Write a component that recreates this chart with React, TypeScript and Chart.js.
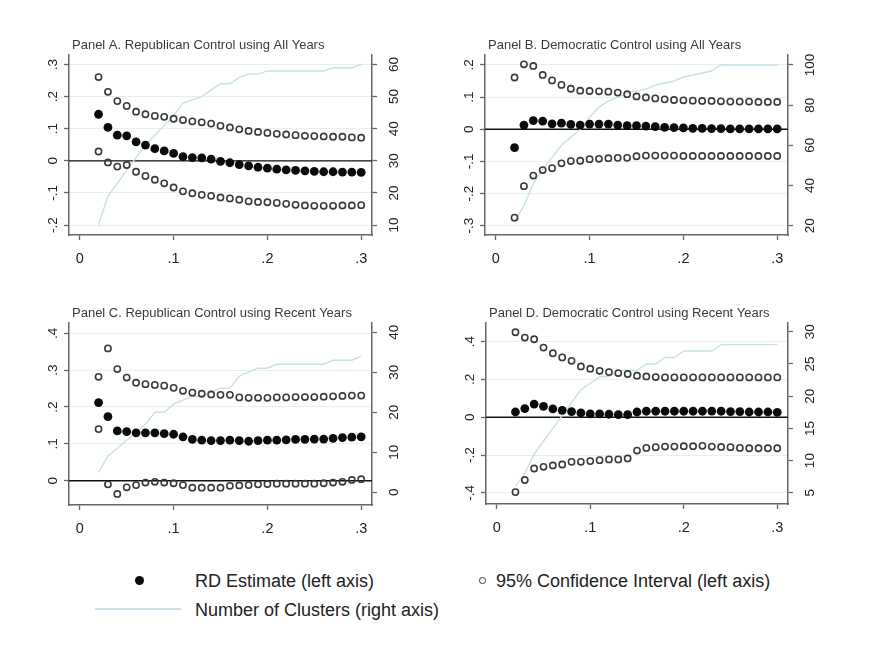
import React, { useEffect, useRef } from "react";
import { Chart, registerables } from "chart.js";

Chart.register(...registerables);

// ---------- data ----------
const BANDWIDTHS = [
  0.02, 0.03, 0.04, 0.05, 0.06, 0.07, 0.08, 0.09, 0.1, 0.11, 0.12, 0.13, 0.14, 0.15, 0.16,
  0.17, 0.18, 0.19, 0.2, 0.21, 0.22, 0.23, 0.24, 0.25, 0.26, 0.27, 0.28, 0.29, 0.3,
];
const X_TICKS = [0, 0.1, 0.2, 0.3];
const X_TICK_LABELS = ["0", ".1", ".2", ".3"];

// Panel A. Republican Control using All Years
const A_RD = [
  0.145, 0.104, 0.08, 0.078, 0.059, 0.049, 0.038, 0.031, 0.023, 0.013, 0.01, 0.009, 0.005, -0.002,
  -0.006, -0.012, -0.016, -0.02, -0.023, -0.026, -0.028, -0.03, -0.031, -0.033, -0.034, -0.034,
  -0.035, -0.035, -0.036,
];
const A_UPPER = [
  0.261, 0.215, 0.186, 0.171, 0.153, 0.145, 0.14, 0.137, 0.131, 0.127, 0.123, 0.12, 0.116, 0.109,
  0.104, 0.098, 0.093, 0.09, 0.087, 0.084, 0.082, 0.08, 0.078, 0.077, 0.076, 0.075, 0.075, 0.073,
  0.072,
];
const A_LOWER = [
  0.029, -0.005, -0.018, -0.013, -0.034, -0.047, -0.059, -0.07, -0.083, -0.095, -0.101, -0.106,
  -0.109, -0.114, -0.117, -0.121, -0.126, -0.128, -0.129, -0.131, -0.134, -0.137, -0.139, -0.14,
  -0.14, -0.14, -0.139, -0.139, -0.138,
];
const A_CLUSTERS = [
  10, 19, 23, 27, 31, 35, 38, 41, 44, 48, 49, 50, 52, 54, 54, 56, 57, 57, 58, 58, 58, 58, 58, 58,
  58, 59, 59, 59, 60,
];
const A_LEFT_TICKS = [-0.2, -0.1, 0, 0.1, 0.2, 0.3];
const A_LEFT_LABELS = ["-.2", "-.1", "0", ".1", ".2", ".3"];
const A_RIGHT_TICKS = [10, 20, 30, 40, 50, 60];
const A_RIGHT_LABELS = ["10", "20", "30", "40", "50", "60"];

// Panel B. Democratic Control using All Years
const B_RD = [
  -0.057, 0.013, 0.027, 0.025, 0.017, 0.019, 0.015, 0.013, 0.016, 0.016, 0.016, 0.013, 0.011, 0.011,
  0.01, 0.008, 0.006, 0.005, 0.004, 0.003, 0.003, 0.002, 0.002, 0.001, 0.001, 0.001, 0.001, 0.001,
  0.001,
];
const B_UPPER = [
  0.161, 0.202, 0.197, 0.169, 0.152, 0.138, 0.126, 0.12, 0.119, 0.118, 0.117, 0.114, 0.109, 0.102,
  0.099, 0.096, 0.093, 0.091, 0.09, 0.089, 0.088, 0.088, 0.087, 0.086, 0.086, 0.086, 0.085, 0.085,
  0.085,
];
const B_LOWER = [
  -0.275, -0.177, -0.144, -0.127, -0.121, -0.106, -0.099, -0.098, -0.093, -0.092, -0.09, -0.089,
  -0.089, -0.084, -0.082, -0.082, -0.082, -0.082, -0.083, -0.083, -0.083, -0.083, -0.083, -0.083,
  -0.083, -0.083, -0.083, -0.083, -0.083,
];
const B_CLUSTERS = [
  22, 30, 41, 48, 54, 60, 64, 68, 74, 79, 82, 84, 86, 87, 88, 90, 91, 92, 94, 95, 96, 97, 100, 100,
  100, 100, 100, 100, 100,
];
const B_LEFT_TICKS = [-0.3, -0.2, -0.1, 0, 0.1, 0.2];
const B_LEFT_LABELS = ["-.3", "-.2", "-.1", "0", ".1", ".2"];
const B_RIGHT_TICKS = [20, 40, 60, 80, 100];
const B_RIGHT_LABELS = ["20", "40", "60", "80", "100"];

// Panel C. Republican Control using Recent Years
const C_RD = [
  0.212, 0.174, 0.135, 0.133, 0.13, 0.13, 0.13, 0.128, 0.126, 0.119, 0.112, 0.11, 0.109, 0.109,
  0.11, 0.109, 0.107, 0.109, 0.11, 0.11, 0.111, 0.112, 0.112, 0.113, 0.113, 0.115, 0.117, 0.118,
  0.119,
];
const C_UPPER = [
  0.282, 0.359, 0.303, 0.28, 0.266, 0.262, 0.26, 0.258, 0.252, 0.244, 0.239, 0.236, 0.234, 0.233,
  0.233, 0.226, 0.225, 0.225, 0.225, 0.226, 0.226, 0.227, 0.227, 0.227, 0.228, 0.229, 0.23, 0.231,
  0.231,
];
const C_LOWER = [
  0.14, -0.01, -0.036, -0.018, -0.012, -0.005, -0.003, -0.005, -0.007, -0.012, -0.019, -0.019,
  -0.019, -0.019, -0.014, -0.013, -0.012, -0.01, -0.009, -0.008, -0.008, -0.008, -0.008, -0.008,
  -0.007, -0.005, -0.003, 0.002, 0.004,
];
const C_CLUSTERS = [
  5, 9, 11, 13, 15, 17, 20, 20, 22, 23, 24, 24, 25, 26, 26, 29, 30, 31, 31, 32, 32, 32, 32, 32, 32,
  33, 33, 33, 34,
];
const C_LEFT_TICKS = [0, 0.1, 0.2, 0.3, 0.4];
const C_LEFT_LABELS = ["0", ".1", ".2", ".3", ".4"];
const C_RIGHT_TICKS = [0, 10, 20, 30, 40];
const C_RIGHT_LABELS = ["0", "10", "20", "30", "40"];

// Panel D. Democratic Control using Recent Years
const D_RD = [
  0.028, 0.046, 0.07, 0.058, 0.044, 0.037, 0.03, 0.023, 0.018, 0.018, 0.016, 0.014, 0.014, 0.028,
  0.032, 0.032, 0.032, 0.032, 0.032, 0.032, 0.032, 0.033, 0.032, 0.03, 0.03, 0.028, 0.028, 0.028,
  0.026,
];
const D_UPPER = [
  0.45, 0.422, 0.413, 0.369, 0.339, 0.317, 0.299, 0.269, 0.257, 0.246, 0.239, 0.234, 0.229, 0.22,
  0.216, 0.213, 0.211, 0.211, 0.211, 0.211, 0.211, 0.211, 0.211, 0.211, 0.211, 0.211, 0.211, 0.211,
  0.211,
];
const D_LOWER = [
  -0.396, -0.332, -0.271, -0.262, -0.255, -0.25, -0.236, -0.236, -0.232, -0.227, -0.223, -0.223,
  -0.218, -0.176, -0.162, -0.158, -0.155, -0.155, -0.153, -0.153, -0.151, -0.155, -0.157, -0.158,
  -0.162, -0.164, -0.164, -0.164, -0.164,
];
const D_CLUSTERS = [
  6, 8, 11, 13, 15, 17, 19, 21, 22, 23, 23, 24, 24, 24, 25, 25, 26, 26, 27, 27, 27, 27, 28, 28, 28,
  28, 28, 28, 28,
];
const D_LEFT_TICKS = [-0.4, -0.2, 0, 0.2, 0.4];
const D_LEFT_LABELS = ["-.4", "-.2", "0", ".2", ".4"];
const D_RIGHT_TICKS = [5, 10, 15, 20, 25, 30];
const D_RIGHT_LABELS = ["5", "10", "15", "20", "25", "30"];

const TITLES = [
  "Panel A. Republican Control using All Years",
  "Panel B. Democratic Control using All Years",
  "Panel C. Republican Control using Recent Years",
  "Panel D. Democratic Control using Recent Years",
];

const LEGEND_LABELS = [
  "RD Estimate (left axis)",
  "95% Confidence Interval (left axis)",
  "Number of Clusters (right axis)",
];

// ---------- style ----------
const FONT = "'Liberation Sans', Arial, Helvetica, sans-serif";
const AXIS_COLOR = "#666666";
const GRID_COLOR = "#e9eef0";
const TEXT_COLOR = "#222222";
const TITLE_COLOR = "#3a3a3a";
const CLUSTER_COLOR = "#c6e2e9";
const FILLED_COLOR = "#0b0b0b";
const HOLLOW_COLOR = "#3a3a3a";
const X_MIN = -0.0115;
const X_MAX = 0.3115;

type PanelSpec = {
  title: string;
  rd: number[];
  upper: number[];
  lower: number[];
  clusters: number[];
  leftTicks: number[];
  leftLabels: string[];
  rightTicks: number[];
  rightLabels: string[];
  yMin: number;
  yMax: number;
  y1Min: number;
  y1Max: number;
  box: { left: number; top: number; width: number; height: number };
  area: { left: number; right: number; top: number; bottom: number };
};

const PANELS: PanelSpec[] = [
  {
    title: TITLES[0],
    rd: A_RD, upper: A_UPPER, lower: A_LOWER, clusters: A_CLUSTERS,
    leftTicks: A_LEFT_TICKS, leftLabels: A_LEFT_LABELS,
    rightTicks: A_RIGHT_TICKS, rightLabels: A_RIGHT_LABELS,
    yMin: -0.231, yMax: 0.3296, y1Min: 6.9, y1Max: 62.96,
    box: { left: 0, top: 20, width: 440, height: 265 },
    area: { left: 69, right: 372, top: 55, bottom: 235 },
  },
  {
    title: TITLES[1],
    rd: B_RD, upper: B_UPPER, lower: B_LOWER, clusters: B_CLUSTERS,
    leftTicks: B_LEFT_TICKS, leftLabels: B_LEFT_LABELS,
    rightTicks: B_RIGHT_TICKS, rightLabels: B_RIGHT_LABELS,
    yMin: -0.329, yMax: 0.231, y1Min: 15.36, y1Max: 104.96,
    box: { left: 420, top: 20, width: 440, height: 265 },
    area: { left: 485, right: 788, top: 55, bottom: 235 },
  },
  {
    title: TITLES[2],
    rd: C_RD, upper: C_UPPER, lower: C_LOWER, clusters: C_CLUSTERS,
    leftTicks: C_LEFT_TICKS, leftLabels: C_LEFT_LABELS,
    rightTicks: C_RIGHT_TICKS, rightLabels: C_RIGHT_LABELS,
    yMin: -0.066, yMax: 0.428, y1Min: -3.2, y1Max: 42.3,
    box: { left: 0, top: 290, width: 440, height: 260 },
    area: { left: 69, right: 372, top: 323, bottom: 505 },
  },
  {
    title: TITLES[3],
    rd: D_RD, upper: D_UPPER, lower: D_LOWER, clusters: D_CLUSTERS,
    leftTicks: D_LEFT_TICKS, leftLabels: D_LEFT_LABELS,
    rightTicks: D_RIGHT_TICKS, rightLabels: D_RIGHT_LABELS,
    yMin: -0.459, yMax: 0.499, y1Min: 3.27, y1Max: 31.35,
    box: { left: 420, top: 290, width: 440, height: 260 },
    area: { left: 486, right: 788, top: 323, bottom: 504 },
  },
];

const toPoints = (ys: number[]) => BANDWIDTHS.map((x, i) => ({ x, y: ys[i] }));

const stataPlugin = {
  id: "stata",
  beforeDatasetsDraw(chart: any) {
    const ctx = chart.ctx;
    const { left, right } = chart.chartArea;
    const y = chart.scales.y.getPixelForValue(0);
    ctx.save();
    ctx.strokeStyle = "#111111";
    ctx.lineWidth = 1.4;
    ctx.beginPath();
    ctx.moveTo(left, y);
    ctx.lineTo(right, y);
    ctx.stroke();
    ctx.restore();
  },
  afterDraw(chart: any, _args: any, opts: any) {
    const ctx = chart.ctx;
    const area = chart.chartArea;
    ctx.save();
    // title
    ctx.fillStyle = TITLE_COLOR;
    ctx.font = `13px ${FONT}`;
    ctx.textAlign = "left";
    ctx.textBaseline = "middle";
    ctx.fillText(opts.title, area.left + 3, area.top - 10);
    // rotated y labels
    ctx.fillStyle = TEXT_COLOR;
    ctx.font = `13.5px ${FONT}`;
    ctx.textAlign = "center";
    ctx.textBaseline = "middle";
    const drawSide = (scale: any, ticks: number[], labels: string[], cx: number) => {
      ticks.forEach((v, i) => {
        const py = scale.getPixelForValue(v);
        ctx.save();
        ctx.translate(cx, py);
        ctx.rotate(-Math.PI / 2);
        ctx.fillText(labels[i], 0, 0);
        ctx.restore();
      });
    };
    drawSide(chart.scales.y, opts.leftTicks, opts.leftLabels, area.left - 16);
    drawSide(chart.scales.y1, opts.rightTicks, opts.rightLabels, area.right + 22);
    ctx.restore();
  },
};

function Panel({ spec }: { spec: PanelSpec }) {
  const ref = useRef<HTMLCanvasElement | null>(null);
  useEffect(() => {
    const canvas = ref.current;
    if (!canvas) return;
    const { box, area } = spec;
    const leftW = area.left - box.left;
    const rightW = box.left + box.width - area.right;
    const padTop = area.top - box.top;
    const xH = box.top + box.height - area.bottom;

    const chart = new Chart(canvas, {
      type: "scatter",
      data: {
        datasets: [
          {
            label: LEGEND_LABELS[0],
            data: toPoints(spec.rd),
            backgroundColor: FILLED_COLOR,
            borderWidth: 0,
            pointRadius: 4.4,
            order: 0,
            yAxisID: "y",
          },
          {
            label: LEGEND_LABELS[1],
            data: toPoints(spec.upper),
            backgroundColor: "rgba(0,0,0,0)",
            borderColor: HOLLOW_COLOR,
            borderWidth: 1.6,
            pointRadius: 3.1,
            order: 1,
            yAxisID: "y",
          },
          {
            label: LEGEND_LABELS[1],
            data: toPoints(spec.lower),
            backgroundColor: "rgba(0,0,0,0)",
            borderColor: HOLLOW_COLOR,
            borderWidth: 1.6,
            pointRadius: 3.1,
            order: 2,
            yAxisID: "y",
          },
          {
            label: LEGEND_LABELS[2],
            data: toPoints(spec.clusters),
            showLine: true,
            borderColor: CLUSTER_COLOR,
            backgroundColor: CLUSTER_COLOR,
            borderWidth: 1.4,
            pointRadius: 0,
            tension: 0,
            order: 5,
            yAxisID: "y1",
          } as any,
        ],
      },
      options: {
        responsive: false,
        maintainAspectRatio: false,
        animation: false,
        devicePixelRatio: 1,
        events: [],
        layout: { padding: { top: padTop, left: 0, right: 0, bottom: 0 } },
        plugins: {
          legend: { display: false },
          tooltip: { enabled: false },
          title: { display: false },
          stata: {
            title: spec.title,
            leftTicks: spec.leftTicks,
            leftLabels: spec.leftLabels,
            rightTicks: spec.rightTicks,
            rightLabels: spec.rightLabels,
          },
        } as any,
        scales: {
          x: {
            type: "linear",
            position: "bottom",
            min: X_MIN,
            max: X_MAX,
            bounds: "data",
            afterBuildTicks: (s: any) => {
              s.ticks = X_TICKS.map((v) => ({ value: v }));
            },
            afterFit: (s: any) => {
              s.height = xH;
            },
            ticks: {
              autoSkip: false,
              maxRotation: 0,
              minRotation: 0,
              padding: 10,
              color: TEXT_COLOR,
              font: { family: FONT, size: 14.5 },
              callback: (_v: any, i: number) => X_TICK_LABELS[i],
            },
            grid: {
              drawOnChartArea: false,
              drawTicks: true,
              tickLength: 5,
              tickColor: AXIS_COLOR,
              tickWidth: 1.3,
            },
            border: { display: true, color: AXIS_COLOR, width: 1.5 },
          },
          y: {
            type: "linear",
            position: "left",
            min: spec.yMin,
            max: spec.yMax,
            bounds: "data",
            afterBuildTicks: (s: any) => {
              s.ticks = spec.leftTicks.map((v) => ({ value: v }));
            },
            afterFit: (s: any) => {
              s.width = leftW;
            },
            ticks: { display: false },
            grid: {
              drawOnChartArea: true,
              color: GRID_COLOR,
              lineWidth: 1,
              drawTicks: true,
              tickLength: 5,
              tickColor: AXIS_COLOR,
              tickWidth: 1.3,
            },
            border: { display: true, color: AXIS_COLOR, width: 1.5 },
          },
          y1: {
            type: "linear",
            position: "right",
            min: spec.y1Min,
            max: spec.y1Max,
            bounds: "data",
            afterBuildTicks: (s: any) => {
              s.ticks = spec.rightTicks.map((v) => ({ value: v }));
            },
            afterFit: (s: any) => {
              s.width = rightW;
            },
            ticks: { display: false },
            grid: {
              drawOnChartArea: false,
              drawTicks: true,
              tickLength: 5,
              tickColor: AXIS_COLOR,
              tickWidth: 1.3,
            },
            border: { display: true, color: AXIS_COLOR, width: 1.5 },
          },
        },
      } as any,
      plugins: [stataPlugin as any],
    });
    return () => chart.destroy();
  }, [spec]);

  const { box } = spec;
  return (
    <canvas
      ref={ref}
      width={box.width}
      height={box.height}
      style={{
        position: "absolute",
        left: box.left,
        top: box.top,
        width: box.width,
        height: box.height,
      }}
    />
  );
}

const legendText: React.CSSProperties = {
  position: "absolute",
  fontFamily: FONT,
  fontSize: 18,
  color: TEXT_COLOR,
  lineHeight: "20px",
  whiteSpace: "nowrap",
  transform: "translateY(-50%)",
};

export default function App() {
  return (
    <div
      style={{
        position: "absolute",
        left: 0,
        top: 0,
        width: 880,
        height: 651,
        background: "#ffffff",
        overflow: "hidden",
      }}
    >
      {PANELS.map((p, i) => (
        <Panel key={i} spec={p} />
      ))}
      {/* legend */}
      <div
        style={{
          position: "absolute",
          left: 134.5,
          top: 576,
          width: 9,
          height: 9,
          borderRadius: "50%",
          background: FILLED_COLOR,
        }}
      />
      <div style={{ ...legendText, left: 195, top: 581 }}>{LEGEND_LABELS[0]}</div>
      <div
        style={{
          position: "absolute",
          left: 479,
          top: 577,
          width: 4.6,
          height: 4.6,
          borderRadius: "50%",
          border: `1.6px solid ${HOLLOW_COLOR}`,
        }}
      />
      <div style={{ ...legendText, left: 496, top: 581 }}>{LEGEND_LABELS[1]}</div>
      <div
        style={{
          position: "absolute",
          left: 95,
          top: 608,
          width: 86,
          height: 1.5,
          background: CLUSTER_COLOR,
        }}
      />
      <div style={{ ...legendText, left: 195, top: 610 }}>{LEGEND_LABELS[2]}</div>
    </div>
  );
}
